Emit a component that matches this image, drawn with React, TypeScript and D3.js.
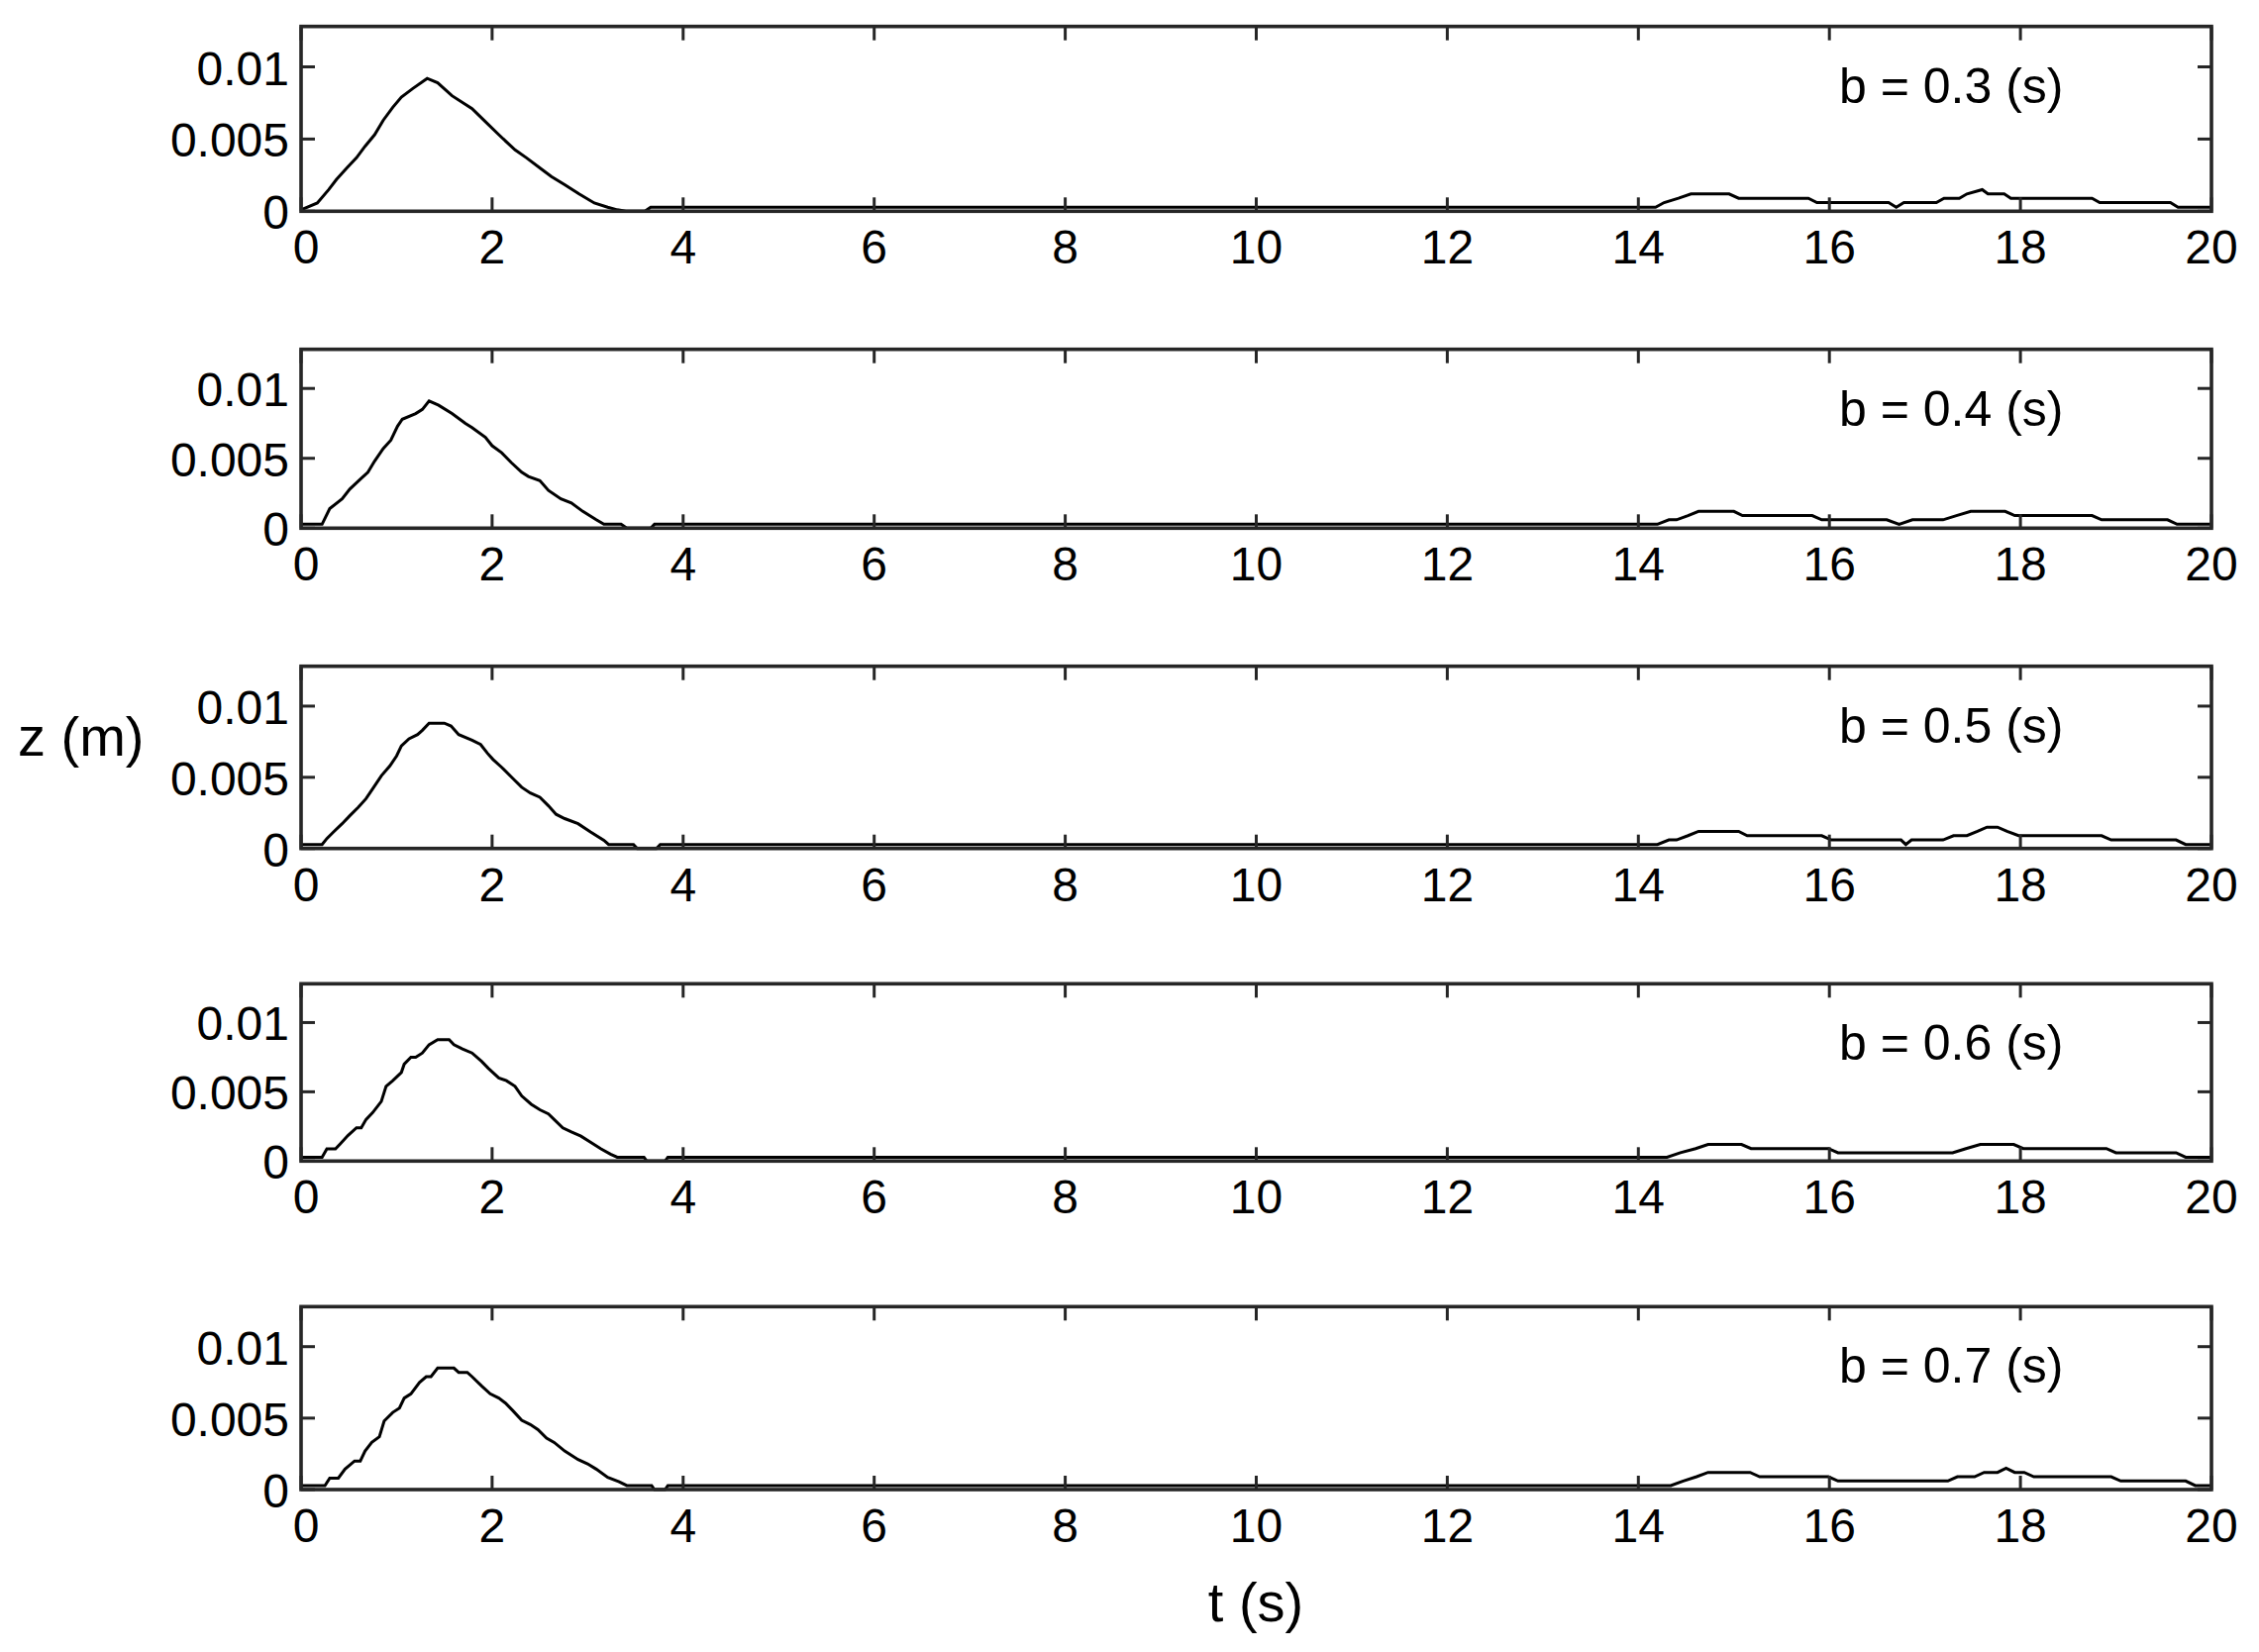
import React from "react";
import * as d3 from "d3";

// z (m) versus t (s) for five values of b
const bLabels = ["b = 0.3 (s)", "b = 0.4 (s)", "b = 0.5 (s)", "b = 0.6 (s)", "b = 0.7 (s)"];

const zB03: [number, number][] = [
  [0, 0.0001], [0.17, 0.00057], [0.29, 0.0015], [0.37, 0.0022], [0.48, 0.003], [0.58, 0.0037],
  [0.67, 0.0045], [0.77, 0.0053], [0.86, 0.0063], [0.96, 0.0072], [1.05, 0.0079], [1.17, 0.0085],
  [1.32, 0.0092], [1.43, 0.0089], [1.58, 0.008], [1.79, 0.0071], [1.93, 0.0062], [2.07, 0.0053],
  [2.24, 0.00425], [2.36, 0.0037], [2.52, 0.0029], [2.62, 0.0024], [2.76, 0.00184], [2.91, 0.0012],
  [3.07, 0.00057], [3.21, 0.00028], [3.31, 0.0001], [3.4, 0], [3.6, 0], [3.66, 0.00028],
  [14.18, 0.00028], [14.27, 0.0006], [14.42, 0.0009], [14.55, 0.0012], [14.95, 0.0012], [15.05, 0.0009],
  [15.78, 0.0009], [15.87, 0.0006], [16.62, 0.0006], [16.7, 0.00028], [16.78, 0.0006], [17.12, 0.0006],
  [17.2, 0.0009], [17.36, 0.0009], [17.44, 0.0012], [17.6, 0.0015], [17.66, 0.0012], [17.83, 0.0012],
  [17.9, 0.0009], [18.75, 0.0009], [18.83, 0.0006], [19.57, 0.0006], [19.65, 0.00028], [20, 0.00028],
];

const zB04: [number, number][] = [
  [0, 0.00028], [0.22, 0.00028], [0.3, 0.0014], [0.43, 0.0021], [0.51, 0.0028], [0.62, 0.0035],
  [0.7, 0.004], [0.77, 0.0048], [0.86, 0.0057], [0.94, 0.0063], [1.01, 0.0073], [1.06, 0.0078],
  [1.2, 0.0082], [1.27, 0.0085], [1.34, 0.0091], [1.44, 0.0088], [1.58, 0.0082], [1.72, 0.0075],
  [1.79, 0.0072], [1.93, 0.0065], [2.0, 0.0059], [2.1, 0.0054], [2.2, 0.0047], [2.31, 0.004],
  [2.38, 0.0037], [2.5, 0.0034], [2.59, 0.0027], [2.72, 0.0021], [2.83, 0.0018], [2.95, 0.0012],
  [3.09, 0.0006], [3.17, 0.00028], [3.35, 0.00028], [3.41, 0], [3.66, 0], [3.7, 0.00028],
  [14.2, 0.00028], [14.32, 0.0006], [14.4, 0.0006], [14.52, 0.0009], [14.63, 0.0012], [15.0, 0.0012],
  [15.09, 0.0009], [15.82, 0.0009], [15.92, 0.0006], [16.6, 0.0006], [16.73, 0.00028], [16.87, 0.0006],
  [17.19, 0.0006], [17.33, 0.0009], [17.48, 0.0012], [17.84, 0.0012], [17.94, 0.0009], [18.75, 0.0009],
  [18.85, 0.0006], [19.54, 0.0006], [19.64, 0.00028], [20, 0.00028],
];

const zB05: [number, number][] = [
  [0, 0.00028], [0.22, 0.00028], [0.27, 0.0007], [0.34, 0.00116], [0.43, 0.00174], [0.51, 0.0023],
  [0.6, 0.0029], [0.68, 0.0035], [0.75, 0.0042], [0.84, 0.0051], [0.93, 0.0058], [1.0, 0.0065],
  [1.05, 0.0072], [1.13, 0.0077], [1.22, 0.008], [1.27, 0.0083], [1.34, 0.0088], [1.5, 0.0088],
  [1.57, 0.0086], [1.65, 0.008], [1.79, 0.0076], [1.88, 0.0073], [1.95, 0.0067], [2.01, 0.00625],
  [2.1, 0.0057], [2.22, 0.0049], [2.31, 0.0043], [2.4, 0.0039], [2.5, 0.0036], [2.59, 0.003],
  [2.67, 0.0024], [2.76, 0.0021], [2.9, 0.00174], [3.03, 0.00116], [3.17, 0.00058], [3.22, 0.00028],
  [3.48, 0.00028], [3.52, 0], [3.72, 0], [3.76, 0.00028],
  [14.2, 0.00028], [14.32, 0.0006], [14.4, 0.0006], [14.52, 0.0009], [14.63, 0.0012], [15.05, 0.0012],
  [15.14, 0.0009], [15.92, 0.0009], [16.02, 0.0006], [16.75, 0.0006], [16.8, 0.00028], [16.86, 0.0006],
  [17.19, 0.0006], [17.3, 0.0009], [17.44, 0.0009], [17.55, 0.0012], [17.65, 0.0015], [17.76, 0.0015],
  [17.86, 0.0012], [17.98, 0.0009], [18.85, 0.0009], [18.95, 0.0006], [19.63, 0.0006], [19.73, 0.00028],
  [20, 0.00028],
];

const zB06: [number, number][] = [
  [0, 0.00028], [0.22, 0.00028], [0.27, 0.00088], [0.36, 0.00088], [0.41, 0.00124], [0.49, 0.00184],
  [0.58, 0.0024], [0.63, 0.0024], [0.68, 0.003], [0.75, 0.0035], [0.84, 0.0043], [0.89, 0.0054],
  [0.96, 0.0058], [1.05, 0.0064], [1.08, 0.007], [1.15, 0.0075], [1.2, 0.0075], [1.27, 0.0078],
  [1.34, 0.0084], [1.43, 0.00876], [1.55, 0.00876], [1.6, 0.0084], [1.69, 0.0081], [1.79, 0.0078],
  [1.89, 0.0072], [1.96, 0.0067], [2.07, 0.006], [2.15, 0.0058], [2.24, 0.0054], [2.31, 0.0047],
  [2.41, 0.0041], [2.5, 0.0037], [2.59, 0.0034], [2.65, 0.003], [2.74, 0.0024], [2.83, 0.0021],
  [2.93, 0.0018], [3.03, 0.00136], [3.14, 0.00088], [3.24, 0.0005], [3.31, 0.00028], [3.59, 0.00028],
  [3.62, 0], [3.81, 0], [3.84, 0.00028],
  [14.3, 0.00028], [14.44, 0.0006], [14.6, 0.0009], [14.73, 0.0012], [15.08, 0.0012], [15.18, 0.0009],
  [15.99, 0.0009], [16.09, 0.0006], [17.29, 0.0006], [17.43, 0.0009], [17.58, 0.0012], [17.93, 0.0012],
  [18.03, 0.0009], [18.9, 0.0009], [19.0, 0.0006], [19.63, 0.0006], [19.73, 0.00028], [20, 0.00028],
];

const zB07: [number, number][] = [
  [0, 0.00028], [0.25, 0.00028], [0.3, 0.0008], [0.39, 0.0008], [0.46, 0.00143], [0.56, 0.002],
  [0.62, 0.002], [0.67, 0.0027], [0.74, 0.0033], [0.82, 0.0037], [0.87, 0.0048], [0.96, 0.0054],
  [1.03, 0.0057], [1.08, 0.0064], [1.15, 0.0067], [1.24, 0.0075], [1.31, 0.0079], [1.36, 0.0079],
  [1.43, 0.0085], [1.6, 0.0085], [1.65, 0.0082], [1.74, 0.0082], [1.79, 0.0079], [1.89, 0.00725],
  [1.98, 0.0067], [2.07, 0.0064], [2.14, 0.00605], [2.22, 0.0055], [2.31, 0.00485], [2.4, 0.00455],
  [2.48, 0.0042], [2.57, 0.0036], [2.65, 0.0033], [2.76, 0.0027], [2.9, 0.0021], [3.0, 0.0018],
  [3.09, 0.00143], [3.21, 0.00085], [3.33, 0.00055], [3.41, 0.00028], [3.67, 0.00028], [3.7, 0],
  [3.81, 0], [3.84, 0.00028],
  [14.34, 0.00028], [14.47, 0.0006], [14.61, 0.0009], [14.73, 0.0012], [15.17, 0.0012], [15.27, 0.0009],
  [15.99, 0.0009], [16.09, 0.0006], [17.24, 0.0006], [17.34, 0.0009], [17.52, 0.0009], [17.62, 0.0012],
  [17.76, 0.0012], [17.85, 0.0015], [17.94, 0.0012], [18.04, 0.0012], [18.14, 0.0009], [18.95, 0.0009],
  [19.05, 0.0006], [19.73, 0.0006], [19.83, 0.00028], [20, 0.00028],
];

const series = [zB03, zB04, zB05, zB06, zB07];

const xTicks = [0, 2, 4, 6, 8, 10, 12, 14, 16, 18, 20];
const yTicks = [0, 0.005, 0.01];
const yTickLabels = ["0", "0.005", "0.01"];

// layout
const W = 2281;
const H = 1668;
const left = 304;
const right = 2233;
const panelTop = [26.7, 352.7, 672.7, 993.3, 1319.3];
const panelBottom = [213.3, 533.3, 856.7, 1172.3, 1504];
const yMax = 0.0128;
const tickLen = 14;
const frameColor = "#262626";
const font = "'Liberation Sans', Arial, sans-serif";

function Panel({ i }: { i: number }) {
  const x = d3.scaleLinear().domain([0, 20]).range([left, right]);
  const y = d3.scaleLinear().domain([0, yMax]).range([panelBottom[i], panelTop[i]]);
  const line = d3
    .line<[number, number]>()
    .x((d) => x(d[0]))
    .y((d) => y(d[1]));
  const top = panelTop[i];
  const bottom = panelBottom[i];

  return (
    <g>
      <path d={line(series[i]) || ""} fill="none" stroke="#000" strokeWidth={3} strokeLinejoin="miter" />
      {xTicks.map((t) => (
        <g key={"xt" + t}>
          <line x1={x(t)} x2={x(t)} y1={bottom} y2={bottom - tickLen} stroke={frameColor} strokeWidth={3} />
          <line x1={x(t)} x2={x(t)} y1={top} y2={top + tickLen} stroke={frameColor} strokeWidth={3} />
          <text
            x={x(t) + (t === 0 ? 5 : 0)}
            y={bottom + 53}
            textAnchor="middle"
            fontFamily={font}
            fontSize={48}
            fill="#000"
          >
            {t}
          </text>
        </g>
      ))}
      {yTicks.map((v, k) => (
        <g key={"yt" + v}>
          <line x1={left} x2={left + tickLen} y1={y(v)} y2={y(v)} stroke={frameColor} strokeWidth={3} />
          <line x1={right} x2={right - tickLen} y1={y(v)} y2={y(v)} stroke={frameColor} strokeWidth={3} />
          <text
            x={292}
            y={y(v) + 18}
            textAnchor="end"
            fontFamily={font}
            fontSize={48}
            fill="#000"
          >
            {yTickLabels[k]}
          </text>
        </g>
      ))}
      <rect
        x={left}
        y={top}
        width={right - left}
        height={bottom - top}
        fill="none"
        stroke={frameColor}
        strokeWidth={3.6}
      />
      <text x={1857} y={top + 77} fontFamily={font} fontSize={50} fill="#000">
        {bLabels[i]}
      </text>
    </g>
  );
}

export default function App() {
  return (
    <svg
      width={W}
      height={H}
      style={{ position: "absolute", left: 0, top: 0, background: "#fff" }}
    >
      <rect width={W} height={H} fill="#fff" />
      {series.map((_, i) => (
        <Panel key={i} i={i} />
      ))}
      <text x={18} y={763} fontFamily={font} fontSize={56} fill="#000">
        z (m)
      </text>
      <text x={1268} y={1637} textAnchor="middle" fontFamily={font} fontSize={56} fill="#000">
        t (s)
      </text>
    </svg>
  );
}
